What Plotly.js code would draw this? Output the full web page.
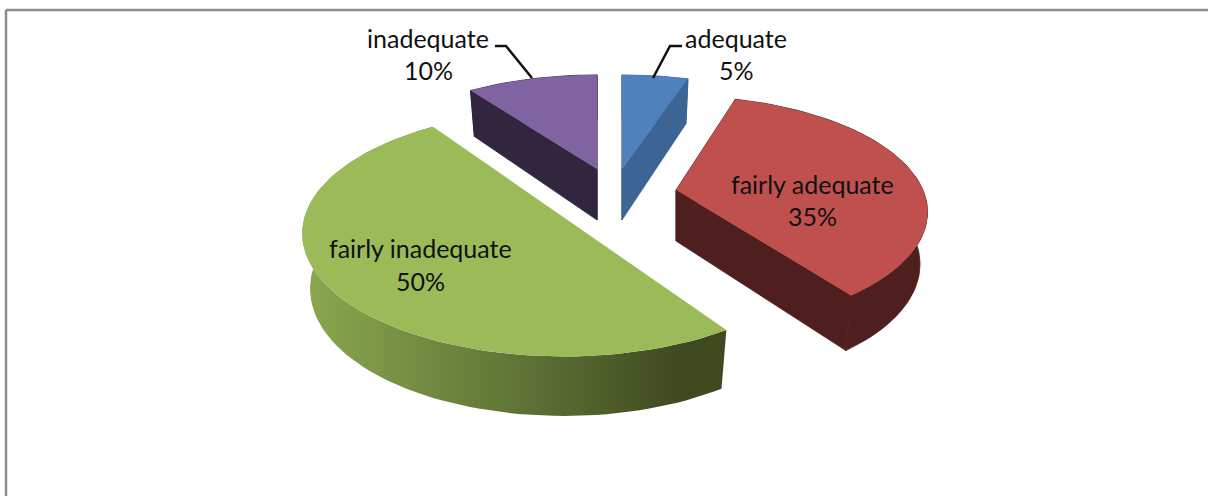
<!DOCTYPE html>
<html><head><meta charset="utf-8">
<script src="https://cdn.plot.ly/plotly-3.0.0.min.js"></script>
<style>html,body{margin:0;padding:0;background:#fff}#c{width:1208px;height:496px}</style>
</head><body><div id="c"></div>
<script>
const categories = ['adequate','fairly adequate','fairly inadequate','inadequate'];
const shares = [5,35,50,10];
const topColors = ['#4F81BD','#C0504D','#9BBB59','#8064A2'];
const wallColors = ['#3C6494','#4E1F1E','#3F4A20','#32263F'];
const apexX = [622,676,564,597];
const apexY = [169,190,210,169];
const scaleA = [1,0.98,1.02,0.985];
const scaleB = [1,1,1.06,1];
const startAdj = [0,-1.5,4,0];
const endAdj = [0,-1,0,0];
const labelX = [736,812,420,428];
const nameY = [38,184,248,38];
const pctY = [70,216,281,70];

const A=252,B=112,K=0.19,D=51,KD=0.18,SHRINK=0.03,FS=25;
function pt(i,deg,r,h){
  const t=deg*Math.PI/180, c=Math.cos(t), s=1/(1+K*r*c);
  const dx=A*scaleA[i]*r*Math.sin(t)*s*(1-SHRINK*h);
  const dy=-B*scaleB[i]*r*c*s*(1-SHRINK*h)+h*D*scaleB[i]*(1-KD*r*c);
  return [apexX[i]+dx, apexY[i]+dy];
}
function arc(i,a0,a1,h){
  const out=[],n=Math.ceil(Math.abs(a1-a0)/2);
  for(let k=0;k<=n;k++) out.push(pt(i,a0+(a1-a0)*k/n,1,h));
  return out;
}
function poly(points,color,lw,extra){
  const xs=points.map(p=>p[0]),ys=points.map(p=>p[1]);
  xs.push(xs[0]);ys.push(ys[0]);
  return Object.assign({type:'scatter',mode:'lines',x:xs,y:ys,fill:'toself',fillcolor:color,
    line:{width:lw,color:color},hoverinfo:'skip',showlegend:false},extra||{});
}
const traces=[];
let cum=0;
shares.forEach((v,i)=>{
  const a0=cum*3.6+startAdj[i],a1=(cum+v)*3.6+endAdj[i];cum+=v;
  const rim=arc(i,a0,a1,0).concat(arc(i,a1,a0,1));
  const half = v>=50;
  if(half){
    traces.push(poly(rim,wallColors[i],0,{fillgradient:{type:'horizontal',start:305,stop:680,
      colorscale:[[0,'#8AA84F'],[0.5,'#657A39'],[1,'#3F4A20']]}}));
    traces.push(poly(arc(i,a0,a1,0),topColors[i],0));
  } else {
    traces.push(poly(rim,wallColors[i],0.8));
    [a0,a1].forEach(a=>{
      traces.push(poly([pt(i,a,0,0),pt(i,a,1,0),pt(i,a,1,1),pt(i,a,0,1)],wallColors[i],0.8));
    });
    traces.push(poly([pt(i,0,0,0)].concat(arc(i,a0,a1,0)),topColors[i],0));
  }
});
const leaderX=[[682,670,653],[495,506,532]], leaderY=[[46,46,78],[46,46,78]];
leaderX.forEach((lx,k)=>traces.push({type:'scatter',mode:'lines',x:lx,y:leaderY[k],
  line:{color:'#111',width:2.5},hoverinfo:'skip',showlegend:false}));

const annotations=[];
categories.forEach((c,i)=>{
  annotations.push({x:labelX[i],y:nameY[i],text:c,xref:'x',yref:'y',showarrow:false,xanchor:'center',yanchor:'middle',
    font:{family:'Lato, Carlito, sans-serif',size:FS,color:'#111'}});
  annotations.push({x:labelX[i],y:pctY[i],text:shares[i]+'%',xref:'x',yref:'y',showarrow:false,xanchor:'center',yanchor:'middle',
    font:{family:'Lato, Carlito, sans-serif',size:FS,color:'#111'}});
});
const frame={type:'line',xref:'x',yref:'y',line:{color:'#8E8E8E',width:2.5}};
const layout={width:1208,height:496,margin:{l:0,r:0,t:0,b:0},paper_bgcolor:'#fff',plot_bgcolor:'#fff',
  xaxis:{range:[0,1208],visible:false,fixedrange:true},
  yaxis:{range:[496,0],visible:false,fixedrange:true},
  showlegend:false,annotations,
  shapes:[Object.assign({},frame,{x0:6,y0:10,x1:1208,y1:10}),Object.assign({},frame,{x0:6,y0:10,x1:6,y1:496})]};
Plotly.newPlot('c',traces,layout,{staticPlot:true,displayModeBar:false});
</script></body></html>
